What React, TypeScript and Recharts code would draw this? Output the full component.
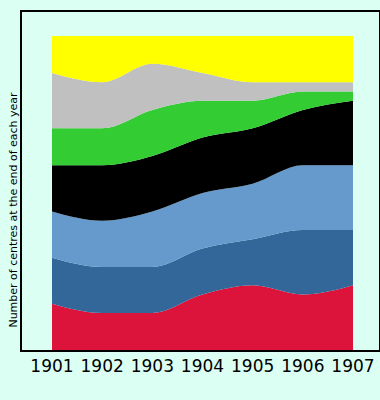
import { AreaChart, Area, XAxis, YAxis } from "recharts";

document.body.style.margin = "0";
document.body.style.background = "#dcfff3";

const years = ["1901", "1902", "1903", "1904", "1905", "1906", "1907"];
const red = [5, 4, 4, 6, 7, 6, 7];
const darkBlue = [5, 5, 5, 5, 5, 7, 6];
const lightBlue = [5, 5, 6, 6, 6, 7, 7];
const black = [5, 6, 6, 6, 6, 6, 7];
const green = [4, 4, 5, 4, 3, 2, 1];
const grey = [6, 5, 5, 3, 2, 1, 1];
const yellow = [4, 5, 3, 4, 5, 5, 5];

const data = years.map((year, i) => ({
  year,
  red: red[i],
  darkBlue: darkBlue[i],
  lightBlue: lightBlue[i],
  black: black[i],
  green: green[i],
  grey: grey[i],
  yellow: yellow[i],
}));

const series = [
  { key: "red", color: "#dc143c" },
  { key: "darkBlue", color: "#336699" },
  { key: "lightBlue", color: "#6699cc" },
  { key: "black", color: "#000000" },
  { key: "green", color: "#33cc33" },
  { key: "grey", color: "#c0c0c0" },
  { key: "yellow", color: "#ffff00" },
];

const YLabel = () => (
  <text
    x={13}
    y={210}
    transform="rotate(-90 13 210)"
    textAnchor="middle"
    dominantBaseline="central"
    fontSize={11}
    fontFamily="DejaVu Sans"
    fill="#000"
  >
    Number of centres at the end of each year
  </text>
);

export default function App() {
  return (
    <div style={{ position: "relative", width: 380, height: 400, background: "#dcfff3" }}>
      <div
        style={{
          position: "absolute",
          left: 20,
          top: 10,
          width: 357,
          height: 338,
          border: "2px solid #000",
        }}
      />
      <AreaChart
        width={380}
        height={400}
        data={data}
        margin={{ top: 36, right: 27, bottom: 0, left: 0 }}
        style={{ position: "absolute", left: 0, top: 0 }}
      >
        <XAxis
          dataKey="year"
          height={50}
          axisLine={false}
          tickLine={false}
          interval={0}
          tick={{ fill: "#000", fontSize: 17, fontFamily: "DejaVu Sans", dy: 2 }}
        />
        <YAxis
          width={52}
          domain={[0, 34]}
          tick={false}
          axisLine={false}
          tickLine={false}
          label={<YLabel />}
        />
        {series.map((s) => (
          <Area
            key={s.key}
            type="monotone"
            dataKey={s.key}
            stackId="a"
            stroke="none"
            fill={s.color}
            fillOpacity={1}
            isAnimationActive={false}
          />
        ))}
      </AreaChart>
    </div>
  );
}
